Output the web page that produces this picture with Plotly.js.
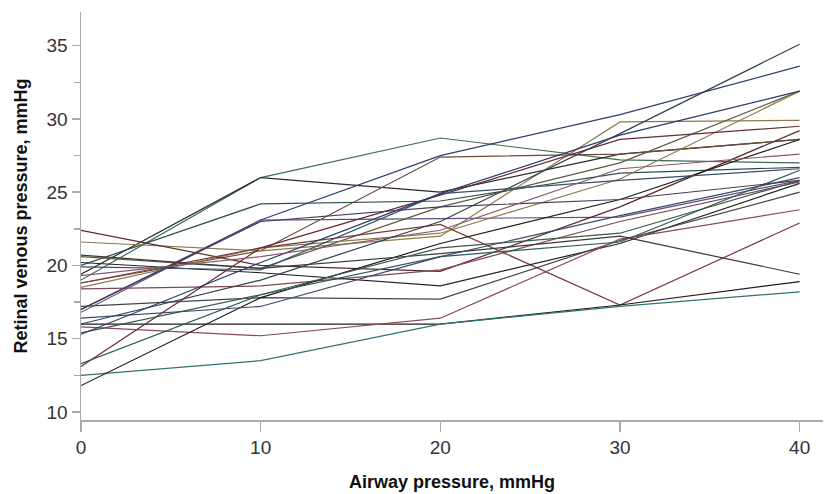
<!DOCTYPE html>
<html>
<head>
<meta charset="utf-8">
<script src="https://cdn.plot.ly/plotly-3.0.1.min.js"></script>
<style>html,body{margin:0;padding:0;background:#fff;}#chart{width:826px;height:494px;}</style>
</head>
<body>
<div id="chart"></div>
<script>
// Airway pressure levels (mmHg)
const airway = [0, 10, 20, 30, 40];

// Retinal venous pressure per subject (mmHg)
const s01 = [19.0, 26.0, 28.7, 27.2, 27.0];
const s02 = [19.4, 26.0, 25.0, 27.6, 28.6];
const s03 = [20.0, 24.2, 24.4, 26.3, 26.7];
const s04 = [17.0, 23.1, 27.5, 30.3, 33.6];
const s05 = [16.8, 23.1, 23.2, 23.3, 25.8];
const s06 = [18.8, 21.0, 27.4, 27.6, 28.6];
const s07 = [21.6, 21.0, 22.0, 29.8, 29.9];
const s08 = [20.6, 19.8, 24.0, 27.0, 31.9];
const s09 = [18.5, 21.2, 22.2, 25.9, 31.9];
const s10 = [22.4, 20.0, 19.6, 24.0, 29.2];
const s11 = [18.8, 21.2, 22.8, 17.3, 22.9];
const s12 = [18.4, 18.6, 19.7, 23.0, 25.7];
const s13 = [20.2, 19.5, 18.6, 21.5, 25.6];
const s14 = [17.2, 17.8, 17.7, 21.7, 25.0];
const s15 = [16.0, 16.0, 16.0, 17.3, 18.9];
const s16 = [15.8, 15.2, 16.4, 21.8, 23.8];
const s17 = [12.5, 13.5, 16.0, 17.2, 18.2];
const s18 = [11.8, 17.8, 21.5, 24.5, 28.6];
const s19 = [13.1, 21.2, 24.8, 28.6, 29.5];
const s20 = [13.3, 18.0, 20.6, 21.6, 26.5];
const s21 = [20.7, 19.8, 20.8, 22.0, 19.4];
const s22 = [15.4, 18.0, 21.2, 22.2, 25.8];
const s23 = [16.4, 17.2, 20.6, 23.4, 26.0];
const s24 = [19.9, 19.7, 24.9, 25.8, 26.6];
const s25 = [15.3, 20.2, 24.9, 28.9, 31.9];
const s26 = [17.0, 23.0, 24.0, 24.5, 25.8];
const s27 = [19.3, 20.6, 22.4, 26.6, 27.6];
const s28 = [16.0, 19.0, 23.0, 29.0, 35.1];

const subjects = [s01,s02,s03,s04,s05,s06,s07,s08,s09,s10,s11,s12,s13,s14,
                  s15,s16,s17,s18,s19,s20,s21,s22,s23,s24,s25,s26,s27,s28];
const colors = ['#3d6b58','#2a2a2a','#2f4f4f','#2c3e70','#5e4c7e','#6b4a3a','#8a7a4a',
                '#5a5a3a','#8b7d4b','#5a2a2a','#7a3a3a','#7d4a52','#222222','#444444',
                '#1e1e1e','#8a4a5a','#2f7474','#1a1a1a','#6a2a3a','#2a5a5a','#3a3a3a',
                '#3a5a4a','#3a4a6a','#35506a','#2a3a6a','#4a3a5a','#8a5a6a','#34404a'];

const traces = subjects.map((ys, i) => ({
  x: airway, y: ys, type: 'scatter', mode: 'lines',
  line: {color: colors[i % colors.length], width: 1.2},
  showlegend: false, hoverinfo: 'skip'
}));

const axisFont = {family: 'Liberation Sans, Arial, sans-serif', size: 19, color: '#333'};
const titleFont = {family: 'Liberation Sans, Arial, sans-serif', size: 18, color: '#111', weight: 'bold'};

const layout = {
  width: 826, height: 494,
  margin: {l: 81, r: 3, t: 12, b: 74},
  paper_bgcolor: '#fff', plot_bgcolor: '#fff',
  showlegend: false,
  xaxis: {
    range: [0, 41.3], tickvals: [0,10,20,30,40], ticktext: ['0','10','20','30','40'],
    ticks: 'outside', ticklen: 10, tickcolor: '#aaa', tickwidth: 1.5,
    showline: true, linecolor: '#aaa', linewidth: 1.5, showgrid: false, zeroline: false,
    tickfont: axisFont,
    title: {text: 'Airway pressure, mmHg', font: titleFont, standoff: 18}
  },
  yaxis: {
    range: [9.45, 37.3], tickvals: [10,15,20,25,30,35],
    ticks: 'outside', ticklen: 8, tickcolor: '#aaa', tickwidth: 1.5,
    minor: {tickvals: [12.5,17.5,22.5,27.5,32.5], ticks: 'outside', ticklen: 6, tickcolor: '#aaa', tickwidth: 1.5, showgrid: false},
    showline: true, linecolor: '#aaa', linewidth: 1.5, showgrid: false, zeroline: false,
    tickfont: axisFont,
    title: {text: 'Retinal venous pressure, mmHg', font: titleFont, standoff: 14}
  }
};

Plotly.newPlot('chart', traces, layout, {displayModeBar: false, staticPlot: true});
</script>
</body>
</html>
